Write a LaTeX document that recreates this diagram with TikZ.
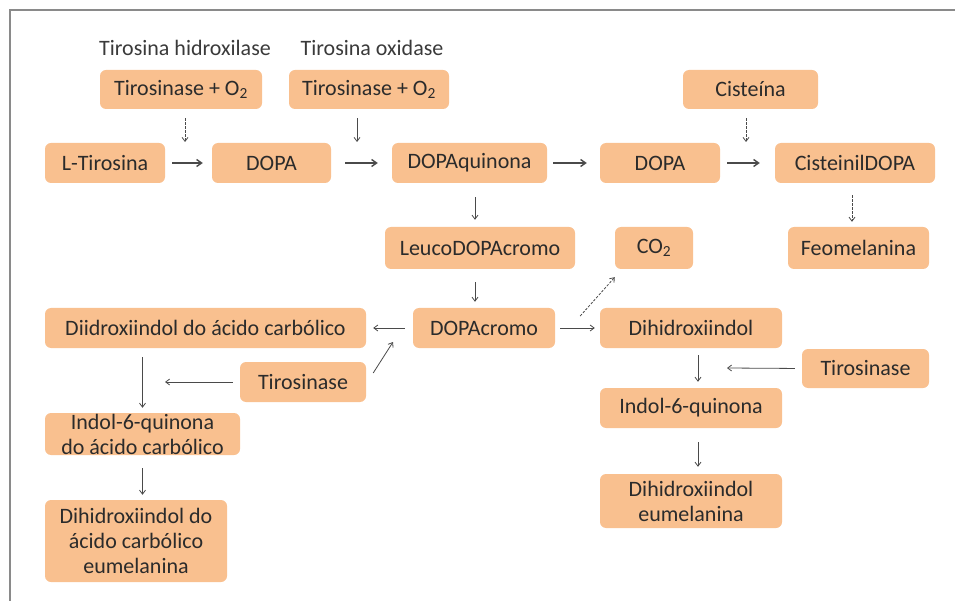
\documentclass[tikz,border=0pt]{standalone}
\usepackage{fontspec}
\setmainfont{Carlito}
\usetikzlibrary{arrows.meta}
\definecolor{boxfill}{HTML}{F9C08F}
\definecolor{boxtext}{HTML}{2B2B2B}
\definecolor{lbltext}{HTML}{3A3A3A}
\definecolor{arrcol}{HTML}{4A4A4A}
\definecolor{framecol}{HTML}{8A8A8A}
\tikzset{
  box/.style={fill=boxfill, rounded corners=6pt, inner sep=0pt, align=center,
    text=boxtext, font=\fontsize{22}{25}\selectfont},
  lbl/.style={text=lbltext, font=\fontsize{22}{25}\selectfont, inner sep=0pt},
  arr/.style={draw=arrcol, line width=0.8pt, -{Straight Barb[length=4pt,width=6pt]}},
  harr/.style={draw=arrcol, line width=1.4pt, -{Straight Barb[length=5pt,width=7pt]}},
  dash arr/.style={arr, dash pattern=on 2.5pt off 1.5pt}
}
\begin{document}
\begin{tikzpicture}[x=1pt,y=-1pt]
\useasboundingbox (0,0) rectangle (955,601);
\draw[framecol, line width=2pt] (10,601) -- (10,10) -- (955,10);

% labels
\node[lbl] (hid) at (185,48) {Tirosina hidroxilase};
\node[lbl] (oxi) at (372,48) {Tirosina oxidase};

% boxes
\node[box, minimum width=162pt, minimum height=39pt] (T1) at (181,89.5) {Tirosinase + O\textsubscript{2}};
\node[box, minimum width=160pt, minimum height=39pt] (T2) at (369,89.5) {Tirosinase + O\textsubscript{2}};
\node[box, minimum width=135pt, minimum height=39pt] (Cis) at (750.5,89.5) {Cisteína};
\node[box, minimum width=120pt, minimum height=40pt] (LT) at (105,163) {L-Tirosina};
\node[box, minimum width=119pt, minimum height=40pt] (D1) at (271.5,163) {DOPA};
\node[box, minimum width=155pt, minimum height=40pt] (DQ) at (469.5,163) {DOPAquinona};
\node[box, minimum width=120pt, minimum height=40pt] (D2) at (660,163) {DOPA};
\node[box, minimum width=160pt, minimum height=40pt] (CD) at (855,163) {CisteinilDOPA};
\node[box, minimum width=190pt, minimum height=42pt] (Leu) at (480,248) {LeucoDOPAcromo};
\node[box, minimum width=78pt, minimum height=42pt] (CO) at (654,248) {CO\textsubscript{2}};
\node[box, minimum width=141pt, minimum height=42pt] (Feo) at (858.5,248) {Feomelanina};
\node[box, minimum width=142pt, minimum height=40pt] (DCr) at (484,328) {DOPAcromo};
\node[box, minimum width=321pt, minimum height=40pt] (DAC) at (205.5,328) {Diidroxiindol do ácido carbólico};
\node[box, minimum width=126pt, minimum height=40pt] (TL) at (303,382) {Tirosinase};
\node[box, minimum width=182pt, minimum height=40pt] (Dih) at (691,328) {Dihidroxiindol};
\node[box, minimum width=127pt, minimum height=39pt] (TR) at (865.5,368.5) {Tirosinase};
\node[box, minimum width=182pt, minimum height=40pt] (IQR) at (691,408) {Indol-6-quinona};
\node[box, minimum width=182pt, minimum height=54pt] (DE) at (691,501) {Dihidroxiindol\\eumelanina};
\node[box, minimum width=195pt, minimum height=42pt] (IQL) at (142.5,434) {Indol-6-quinona\\do ácido carbólico};
\node[box, minimum width=182pt, minimum height=82pt] (DAE) at (136,541) {Dihidroxiindol do\\ácido carbólico\\eumelanina};

% free ends
\coordinate (a1) at (185,142);
\coordinate (a2) at (357,142);
\coordinate (a3) at (746,142);
\coordinate (c1) at (393,342);
\coordinate (c2) at (165,382);
\coordinate (c3) at (727,368);

% horizontal main arrows
\draw[harr, shorten <=7pt, shorten >=9pt] (LT) -- (D1);
\draw[harr, shorten <=14pt, shorten >=14pt] (D1) -- (DQ);
\draw[harr, shorten <=6pt, shorten >=13pt] (DQ) -- (D2);
\draw[harr, shorten <=7pt, shorten >=15pt] (D2) -- (CD);

% enzyme arrows
\draw[dash arr] ([xshift=4pt,yshift=-9pt]T1.south) -- (a1);
\draw[arr] ([xshift=-12pt,yshift=-9pt]T2.south) -- (a2);
\draw[dash arr] ([xshift=-4.5pt,yshift=-9pt]Cis.south) -- (a3);

% vertical arrows
\draw[arr, shorten <=14pt, shorten >=7pt] ([xshift=5.5pt]DQ.south) -- ([xshift=-5pt]Leu.north);
\draw[arr, shorten <=13pt, shorten >=6pt] ([xshift=-5pt]Leu.south) -- ([xshift=-9pt]DCr.north);
\draw[dash arr, shorten <=12pt, shorten >=5pt] ([xshift=-3pt]CD.south) -- ([xshift=-6.5pt]Feo.north);

% DOPAcromo branches
\draw[arr, shorten <=8pt, shorten >=7pt] (DCr) -- (DAC);
\draw[arr, shorten <=5pt, shorten >=5pt] (DCr) -- (Dih);
\draw[dash arr] ([xshift=25pt,yshift=12pt]DCr.east) -- ([yshift=-8pt]CO.south west);

% left tyrosinase
\draw[arr] ([xshift=7pt,yshift=9pt]TL.east) -- (c1);
\draw[arr, shorten <=7pt] (TL.west) -- (c2);
\draw[arr, shorten <=9pt, shorten >=5pt] (IQL.north |- DAC.south) -- (IQL.north);
\draw[arr, shorten <=13pt, shorten >=5pt] (IQL.south) -- (IQL.south |- DAE.north);

% right tyrosinase
\draw[arr, shorten <=7pt] (TR.west) -- (c3);
\draw[arr, shorten <=7pt, shorten >=6pt] ([xshift=7pt]Dih.south) -- ([xshift=7pt]IQR.north);
\draw[arr, shorten <=14pt, shorten >=7pt] ([xshift=7pt]IQR.south) -- ([xshift=7pt]DE.north);
\end{tikzpicture}
\end{document}
